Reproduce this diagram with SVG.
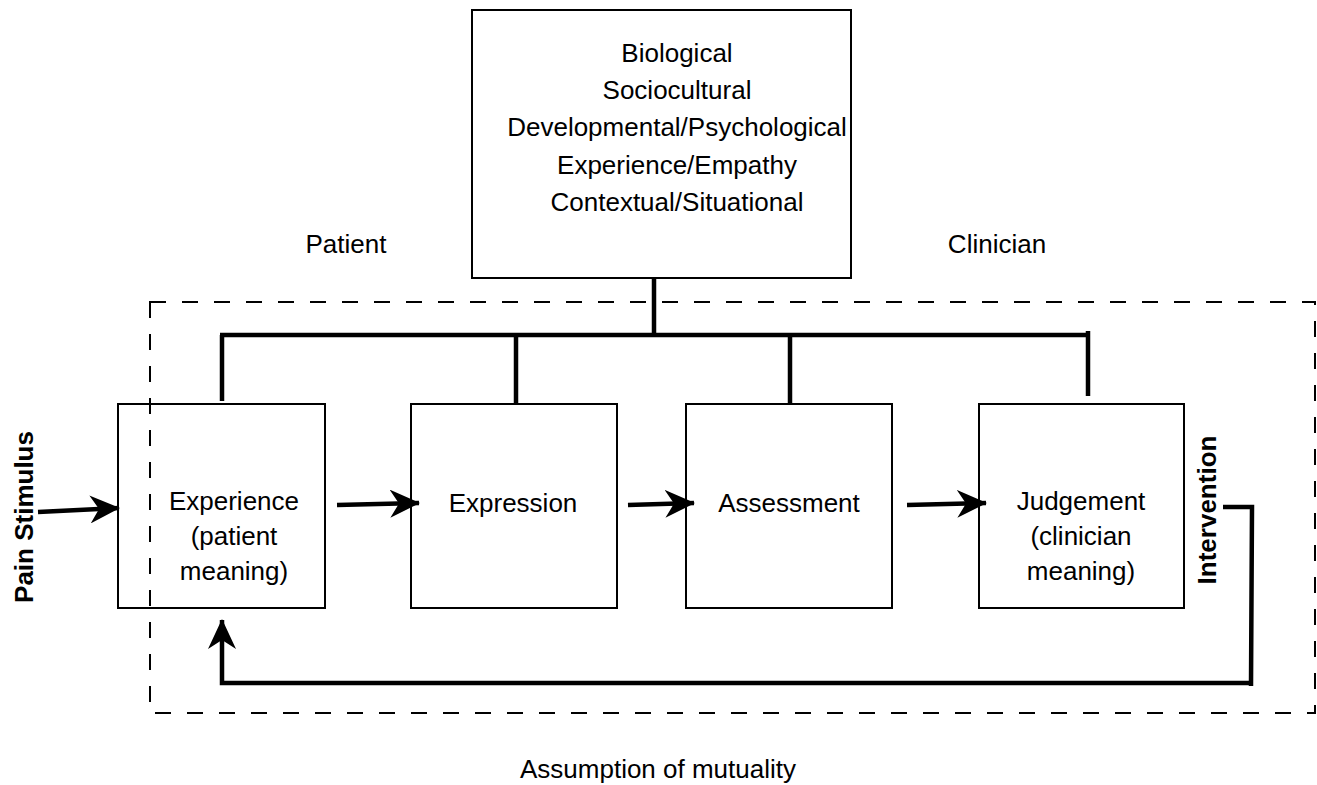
<svg xmlns="http://www.w3.org/2000/svg" width="1317" height="785" viewBox="0 0 1317 785">
<style>
.box{fill:#fff;stroke:#000;stroke-width:2}
.t{font-family:"Liberation Sans",Arial,sans-serif;font-size:26px;fill:#000;text-anchor:middle}
.b{font-weight:bold}
.c{fill:none;stroke:#000;stroke-width:4.5}
.dash{fill:none;stroke:#000;stroke-width:2;stroke-dasharray:16 16}
</style>
<defs>
<marker id="ah" markerUnits="userSpaceOnUse" viewBox="0 0 30 28" refX="29" refY="14" markerWidth="30" markerHeight="28" orient="auto">
<path d="M0,0 L30,14 L0,28 L9,14 Z" fill="#000"/>
</marker>
</defs>
<rect width="1317" height="785" fill="#fff"/>
<g id="factors">
<rect class="box" x="472" y="10" width="379" height="268"/>
<text class="t" x="677" y="62">Biological</text>
<text class="t" x="677" y="99">Sociocultural</text>
<text class="t" x="677" y="136">Developmental/Psychological</text>
<text class="t" x="677" y="174">Experience/Empathy</text>
<text class="t" x="677" y="211">Contextual/Situational</text>
</g>
<g id="patient-label"><text class="t" x="346" y="253">Patient</text></g>
<g id="clinician-label"><text class="t" x="997" y="253">Clinician</text></g>
<g id="experience">
<rect class="box" x="118" y="404" width="207" height="204"/>
<text class="t" x="234" y="510">Experience</text>
<text class="t" x="234" y="545">(patient</text>
<text class="t" x="234" y="580">meaning)</text>
</g>
<g id="expression">
<rect class="box" x="411" y="404" width="206" height="204"/>
<text class="t" x="513" y="512">Expression</text>
</g>
<g id="assessment">
<rect class="box" x="686" y="404" width="206" height="204"/>
<text class="t" x="789" y="512">Assessment</text>
</g>
<g id="judgement">
<rect class="box" x="979" y="404" width="205" height="204"/>
<text class="t" x="1081" y="510">Judgement</text>
<text class="t" x="1081" y="545">(clinician</text>
<text class="t" x="1081" y="580">meaning)</text>
</g>
<g id="pain-stimulus"><text class="t b" transform="translate(33,517) rotate(-90)">Pain Stimulus</text></g>
<g id="intervention"><text class="t b" transform="translate(1216,510) rotate(-90)">Intervention</text></g>
<g id="mutuality">
<rect class="dash" x="150" y="302" width="1165" height="411"/>
<text class="t" x="658" y="778">Assumption of mutuality</text>
</g>
<g id="connectors">
<path class="c" d="M654,278 V337"/>
<path class="c" d="M220,335 H1090"/>
<path class="c" d="M222,335 V401"/>
<path class="c" d="M516,335 V403"/>
<path class="c" d="M790,335 V403"/>
<path class="c" d="M1088,331 V396"/>
<path class="c" d="M38,512 L119,508" marker-end="url(#ah)"/>
<path class="c" d="M337,505 L419,503" marker-end="url(#ah)"/>
<path class="c" d="M628,505 L694,503" marker-end="url(#ah)"/>
<path class="c" d="M907,505 L986,503" marker-end="url(#ah)"/>
<path class="c" d="M1223,507 H1252 L1251,686"/>
<path class="c" d="M1251,683 H222 V620" marker-end="url(#ah)"/>
</g>
</svg>
